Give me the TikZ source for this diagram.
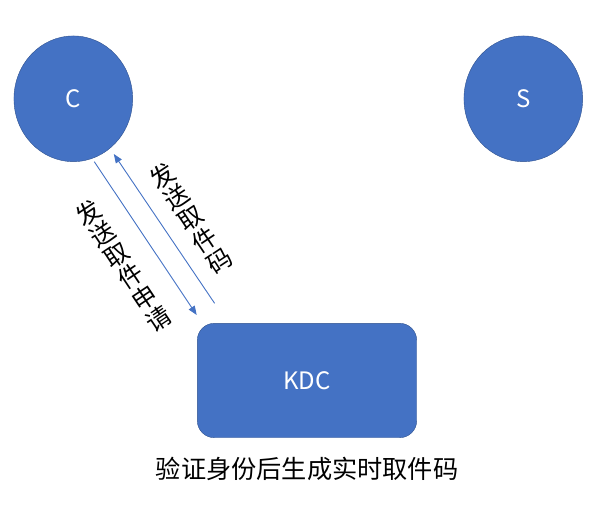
\documentclass[tikz,border=0pt]{standalone}
\usepackage{fontspec}
\setmainfont{Noto Sans CJK SC}
\newfontfamily\cjk{Noto Sans CJK SC}
\usetikzlibrary{arrows.meta, positioning, calc, shapes.geometric}
\definecolor{boxblue}{HTML}{4472C4}
\definecolor{edgeblue}{HTML}{2F528F}
\tikzset{
	>={Triangle[length=9pt,width=7pt]},
}

\begin{document}
\begin{tikzpicture}[
    x=1pt,
    y=-1pt,
    ent/.style={ellipse, draw=edgeblue, fill=boxblue, minimum width=118.7pt, minimum height=125.7pt, inner sep=0pt, text=white, font=\cjk\fontsize{24}{24}\selectfont},
    kdcbox/.style={rectangle, rounded corners=17pt, draw=edgeblue, fill=boxblue, minimum width=219.4pt, minimum height=114.4pt, inner sep=0pt, text=white, font=\cjk\fontsize{24}{24}\selectfont},
    msg/.style={->, draw=boxblue, line width=0.9pt},
    vlbl/.style={align=center, inner sep=0pt, font=\cjk\fontsize{24.5}{25.4}\selectfont},
    lbl/.style={inner sep=0pt, font=\cjk\fontsize{25.2}{25.2}\selectfont}
]
\useasboundingbox (0,0) rectangle (604,510);

% --- parties ---
\node[ent] (C) at (73.3,98.8) {C};
\node[ent] (S) at (523.3,98.8) {S};
\node[kdcbox] (KDC) at (307,380.5) {KDC};
\node[lbl, below=19pt of KDC] (note) {验证身份后生成实时取件码};

% --- message ends ---
\coordinate (reqA) at (94.3,161.7);
\coordinate (reqB) at (196.7,315);
\coordinate (codeA) at (214.6,303.3);
\coordinate (codeB) at (113.8,154);

% --- messages ---
\draw[msg] (reqA) -- (reqB);
\draw[msg] (codeA) -- (codeB);

\node[vlbl, rotate=33.7] (req) at (123.3,265.8) {发\\送\\取\\件\\申\\请};
\node[vlbl, rotate=33.7] (code) at (190.8,218.3) {发\\送\\取\\件\\码};
\end{tikzpicture}
\end{document}
